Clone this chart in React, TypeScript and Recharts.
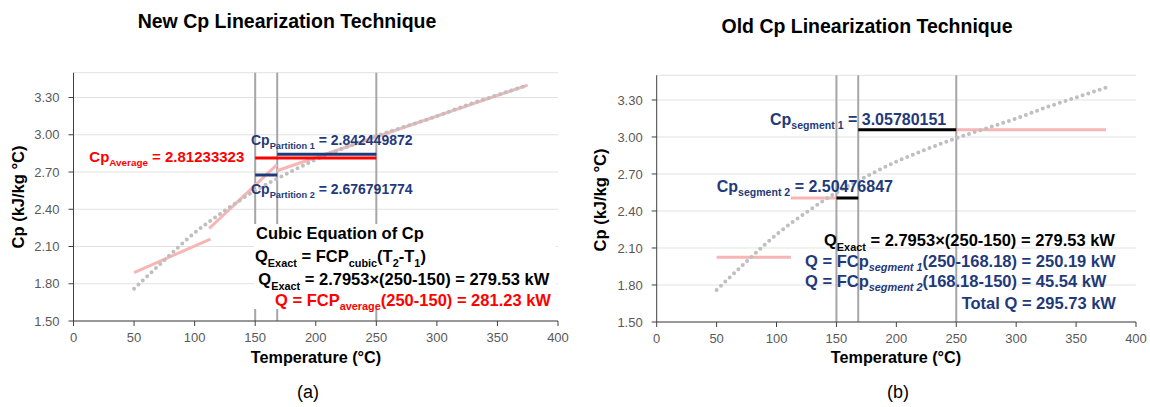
import React from "react";
import { CartesianGrid, Line, LineChart, ReferenceLine, XAxis, YAxis } from "recharts";

// axis ticks
const TEMP_TICKS = [0, 50, 100, 150, 200, 250, 300, 350, 400];
const CP_TICKS = [1.5, 1.8, 2.1, 2.4, 2.7, 3.0, 3.3];

// cubic Cp curve
const CURVE_T = [50, 75, 100, 125, 150, 175, 200, 225, 250, 275, 300, 325, 350, 375];
const CURVE_CP = [1.76, 1.99, 2.21, 2.39, 2.55, 2.68, 2.8, 2.9, 2.99, 3.07, 3.15, 3.24, 3.32, 3.4];

// temperature marks
const T1 = 150;
const T_SPLIT = 168.18;
const T2 = 250;

// new technique values
const CP_AVERAGE = 2.81233323;
const CP_PART1 = 2.842449872;
const CP_PART2 = 2.676791774;
const NEW_PIECE_A = [{ t: 50, cp: 1.89 }, { t: 113, cp: 2.16 }];
const NEW_PIECE_B = [{ t: 112, cp: 2.245 }, { t: 168, cp: 2.76 }];
const NEW_PIECE_C = [{ t: 168, cp: 2.71 }, { t: 375, cp: 3.4 }];

// old technique values
const CP_SEG1 = 3.05780151;
const CP_SEG2 = 2.50476847;
const CP_SEG3 = 2.025;
const OLD_SEG1_EXT_END = 375;
const OLD_SEG2_EXT_START = 112;
const OLD_SEG3_RANGE = [50, 112];

const curve = CURVE_T.map((t, i) => ({ t, cp: CURVE_CP[i] }));
const flat = (a: number, b: number, cp: number) => [{ t: a, cp }, { t: b, cp }];

const FONT = '"Liberation Sans", Arial, sans-serif';
const NAVY = "#1f3a7a";
const PINK = "#f7b5b5";
const AXIS = "#404040";

function Sub({ children, italic }: { children: React.ReactNode; italic?: boolean }) {
  return (
    <span style={{ fontSize: "0.66em", position: "relative", top: "0.42em", fontStyle: italic ? "italic" : "normal" }}>
      {children}
    </span>
  );
}

function Note({ x, cy, size, color, children }: { x: number; cy: number; size: number; color: string; children: React.ReactNode }) {
  return (
    <div
      style={{
        position: "absolute",
        left: x,
        top: cy - 0.59 * size,
        fontSize: size,
        lineHeight: 1.2,
        color,
        fontWeight: 700,
        whiteSpace: "nowrap"
      }}
    >
      {children}
    </div>
  );
}

function Centered({ x, y, size, bold, rotate, children }: { x: number; y: number; size: number; bold?: boolean; rotate?: boolean; children: React.ReactNode }) {
  return (
    <div
      style={{
        position: "absolute",
        left: x,
        top: y,
        fontSize: size,
        lineHeight: 1,
        fontWeight: bold ? 700 : 400,
        color: "#000",
        whiteSpace: "nowrap",
        transform: `translate(-50%, -50%)${rotate ? " rotate(-90deg)" : ""}`
      }}
    >
      {children}
    </div>
  );
}

function Axes() {
  return (
    <>
      <CartesianGrid vertical={false} stroke="#e2e2e2" />
      <XAxis
        type="number"
        dataKey="t"
        domain={[0, 400]}
        ticks={TEMP_TICKS}
        height={30}
        tickSize={5}
        tickMargin={7}
        stroke={AXIS}
        tick={{ fontSize: 13, fill: "#595959" }}
        allowDataOverflow
      />
      <YAxis
        type="number"
        domain={[1.5, 3.5]}
        ticks={CP_TICKS}
        width={60}
        tickSize={5}
        tickMargin={9}
        stroke={AXIS}
        tick={{ fontSize: 13, fill: "#595959" }}
        tickFormatter={(v: number) => v.toFixed(2)}
        allowDataOverflow
      />
      <ReferenceLine x={T1} stroke="#a6a6a6" strokeWidth={2} />
      <ReferenceLine x={T_SPLIT} stroke="#a6a6a6" strokeWidth={2} />
      <ReferenceLine x={T2} stroke="#a6a6a6" strokeWidth={2} />
    </>
  );
}

function seg(data: { t: number; cp: number }[], color: string, width = 3) {
  return (
    <Line
      data={data}
      dataKey="cp"
      type="linear"
      stroke={color}
      strokeWidth={width}
      dot={false}
      activeDot={false}
      isAnimationActive={false}
    />
  );
}

function dotted() {
  return (
    <Line
      data={curve}
      dataKey="cp"
      type="monotone"
      stroke="#bfbfbf"
      strokeWidth={4}
      strokeDasharray="0 6"
      strokeLinecap="round"
      dot={false}
      activeDot={false}
      isAnimationActive={false}
    />
  );
}

export default function App() {
  return (
    <div style={{ position: "absolute", left: 0, top: 0, width: 1150, height: 407, background: "#fff", fontFamily: FONT, overflow: "hidden" }}>
      <div style={{ position: "absolute", left: 0, top: 0 }}>
        <LineChart width={575} height={407} margin={{ top: 72.7, right: 17, bottom: 56, left: 13.5 }}>
          {Axes()}
          {seg(NEW_PIECE_A, PINK)}
          {seg(NEW_PIECE_B, PINK)}
          {seg(NEW_PIECE_C, PINK)}
          {dotted()}
          {seg(flat(T1, T2, CP_AVERAGE), "#ff0000")}
          {seg(flat(T_SPLIT, T2, CP_PART1), NAVY)}
          {seg(flat(T1, T_SPLIT, CP_PART2), NAVY)}
        </LineChart>
      </div>
      <div style={{ position: "absolute", left: 580, top: 0 }}>
        <LineChart width={570} height={407} margin={{ top: 75.3, right: 14, bottom: 55, left: 16.7 }}>
          {Axes()}
          {seg(flat(OLD_SEG3_RANGE[0], OLD_SEG3_RANGE[1], CP_SEG3), PINK)}
          {seg(flat(OLD_SEG2_EXT_START, T1, CP_SEG2), PINK)}
          {seg(flat(T2, OLD_SEG1_EXT_END, CP_SEG1), PINK)}
          {dotted()}
          {seg(flat(T_SPLIT, T2, CP_SEG1), "#000")}
          {seg(flat(T1, T_SPLIT, CP_SEG2), "#000")}
        </LineChart>
      </div>

      {/* titles and axis labels */}
      <Centered x={287} y={22} size={19.5} bold>New Cp Linearization Technique</Centered>
      <Centered x={867} y={26.5} size={19.5} bold>Old Cp Linearization Technique</Centered>
      <Centered x={316} y={357} size={16.2} bold>Temperature (°C)</Centered>
      <Centered x={896} y={357} size={16.2} bold>Temperature (°C)</Centered>
      <Centered x={18} y={196.5} size={16.5} bold rotate>Cp (kJ/kg °C)</Centered>
      <Centered x={600} y={200} size={16.5} bold rotate>Cp (kJ/kg °C)</Centered>
      <Centered x={308} y={391.7} size={18}>(a)</Centered>
      <Centered x={898} y={391.7} size={18}>(b)</Centered>

      {/* new technique notes */}
      <Note x={89.3} cy={156.5} size={15} color="#ff0000">
        Cp<Sub>Average</Sub> = 2.81233323
      </Note>
      <Note x={251} cy={140.5} size={14} color={NAVY}>
        Cp<Sub>Partition 1</Sub> = 2.842449872
      </Note>
      <Note x={251} cy={189.7} size={14} color={NAVY}>
        Cp<Sub>Partition 2</Sub> = 2.676791774
      </Note>
      <div style={{ position: "absolute", left: 254, top: 224, width: 302, height: 85, background: "#fff" }} />
      <Note x={256} cy={233.8} size={16.5} color="#000">
        Cubic Equation of Cp
      </Note>
      <Note x={255} cy={257} size={16.5} color="#000">
        Q<Sub>Exact</Sub> = FCP<Sub>cubic</Sub>(T<Sub>2</Sub>-T<Sub>1</Sub>)
      </Note>
      <Note x={258.3} cy={280} size={16.5} color="#000">
        Q<Sub>Exact</Sub> = 2.7953×(250-150) = 279.53 kW
      </Note>
      <Note x={275} cy={300.5} size={16.5} color="#ff0000">
        Q = FCP<Sub>average</Sub>(250-150) = 281.23 kW
      </Note>

      {/* old technique notes */}
      <Note x={770} cy={119} size={16} color={NAVY}>
        Cp<Sub>segment 1</Sub> = 3.05780151
      </Note>
      <Note x={716.7} cy={186} size={16} color={NAVY}>
        Cp<Sub>segment 2</Sub> = 2.50476847
      </Note>
      <Note x={824} cy={241} size={16.5} color="#000">
        Q<Sub>Exact</Sub> = 2.7953×(250-150) = 279.53 kW
      </Note>
      <Note x={805} cy={261.3} size={16.5} color={NAVY}>
        Q = FCp<Sub italic>segment 1</Sub>(250-168.18) = 250.19 kW
      </Note>
      <Note x={805} cy={281.5} size={16.5} color={NAVY}>
        Q = FCp<Sub italic>segment 2</Sub>(168.18-150) = 45.54 kW
      </Note>
      <Note x={961.7} cy={304} size={16.5} color={NAVY}>
        Total Q = 295.73 kW
      </Note>
    </div>
  );
}
